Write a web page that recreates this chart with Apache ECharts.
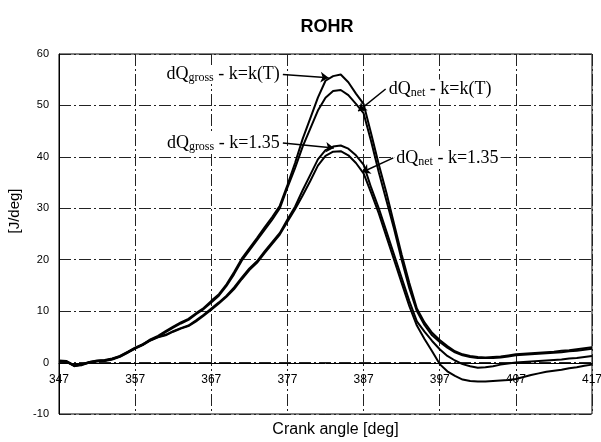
<!DOCTYPE html>
<html>
<head>
<meta charset="utf-8">
<script src="https://cdn.jsdelivr.net/npm/echarts@6/dist/echarts.min.js"></script>
<style>
  html, body { margin: 0; padding: 0; background: #fff; }
  #chart { width: 601px; height: 442px; }
</style>
</head>
<body>
<div id="chart"></div>
<script>
// crank angle, one value per degree
const angles = [
  347, 348, 349, 350, 351, 352, 353, 354, 355, 356, 357, 358, 359, 360,
  361, 362, 363, 364, 365, 366, 367, 368, 369, 370, 371, 372, 373, 374, 375, 376, 377, 378,
  379, 380, 381, 382, 383, 384, 385, 386, 387,
  388, 389, 390, 391, 392, 393, 394,
  395, 396, 397, 398, 399, 400, 401, 402, 403, 404, 405, 406, 407, 408, 409, 410, 411, 412, 413, 414, 415, 416, 417
];

const grossKT = [
  0.3, 0.2, -0.7, -0.4, 0.1, 0.3, 0.4, 0.7, 1.2, 2.0, 2.8, 3.5, 4.5, 5.2,
  6.1, 7.0, 7.8, 8.5, 9.6, 10.6, 12.0, 13.3, 15.2, 17.6, 20.2, 22.2, 24.2, 26.3, 28.3, 30.5, 34.5, 38.8,
  43.5, 47.5, 51.5, 54.8, 55.7, 56.0, 54.5, 52.3, 50.3,
  44.5, 38.5, 33.0, 27.0, 21.0, 15.5, 10.5,
  7.8, 5.8, 4.4, 3.2, 2.2, 1.6, 1.3, 1.1, 1.0, 1.1, 1.2, 1.4, 1.6, 1.7, 1.8, 1.9, 2.0, 2.1, 2.3, 2.4, 2.6, 2.8, 3.0
];

const netKT = [
  0.2, 0.1, -0.6, -0.5, 0.0, 0.2, 0.3, 0.6, 1.1, 1.9, 2.7, 3.4, 4.3, 5.0,
  5.9, 6.8, 7.6, 8.3, 9.4, 10.4, 11.7, 13.0, 14.9, 17.2, 19.8, 21.8, 23.8, 25.8, 27.8, 30.0, 34.0, 37.8,
  42.0, 45.5, 49.0, 51.5, 52.8, 53.0, 52.0, 50.3, 48.5,
  43.0, 37.0, 31.5, 26.0, 20.0, 14.5, 10.0,
  7.3, 5.3, 4.0, 2.9, 2.0, 1.4, 1.1, 0.9, 0.9, 0.9, 1.0, 1.2, 1.4, 1.5, 1.6, 1.7, 1.8, 1.9, 2.0, 2.2, 2.3, 2.5, 2.7
];

const gross135 = [
  0.4, 0.3, -0.5, -0.3, 0.1, 0.4, 0.5, 0.8, 1.3, 2.1, 2.9, 3.6, 4.4, 5.0,
  5.4, 6.1, 6.7, 7.2, 8.2, 9.3, 10.5, 11.7, 13.0, 14.6, 16.5, 18.3, 19.7, 21.6, 23.4, 25.2, 27.8, 30.3,
  33.5, 36.5, 39.5, 41.3, 42.0, 42.2, 41.6, 40.3, 38.5,
  34.0, 30.0, 25.5, 21.0, 16.5, 12.0, 8.0,
  6.0, 4.2, 2.6, 1.3, 0.4, -0.3, -0.7, -1.0, -0.9, -0.7, -0.4, -0.2, 0.0, 0.1, 0.2, 0.3, 0.4, 0.5, 0.6, 0.8, 0.9, 1.1, 1.3
];

const net135 = [
  0.3, 0.2, -0.6, -0.4, 0.0, 0.3, 0.4, 0.7, 1.2, 2.0, 2.8, 3.5, 4.3, 4.9,
  5.3, 6.0, 6.6, 7.1, 8.0, 9.1, 10.3, 11.5, 12.8, 14.3, 16.2, 18.0, 19.4, 21.3, 23.1, 24.9, 27.4, 29.8,
  32.5, 35.3, 38.3, 40.2, 41.0, 41.1, 40.3, 38.8, 36.8,
  33.0, 29.0, 24.5, 20.0, 15.5, 11.0, 7.2,
  4.6, 2.2, -0.3, -1.7, -2.6, -3.3, -3.6, -3.7, -3.7, -3.6, -3.5, -3.4, -3.2, -2.8, -2.4, -2.1, -1.8, -1.6, -1.4, -1.1, -0.9, -0.6, -0.4
];

const xTicks = [347, 357, 367, 377, 387, 397, 407, 417];
const yTicks = [-10, 0, 10, 20, 30, 40, 50, 60];

// label anchor (arrow tail) and arrow head, in chart units
const notes = [
  { sub: "gross", tail: " - k=k(T)", at: [376.4, 56.0], to: [382.4, 55.4], side: "left" },
  { sub: "gross", tail: " - k=1.35", at: [376.4, 42.7], to: [383.1, 41.7], side: "left" },
  { sub: "net", tail: " - k=k(T)", at: [389.9, 53.2], to: [386.3, 48.9], side: "right" },
  { sub: "net", tail: " - k=1.35", at: [390.9, 39.8], to: [386.8, 37.0], side: "right" },
];

const serif = "'Liberation Serif', 'DejaVu Serif', serif";
const sans = "'Liberation Sans', Arial, sans-serif";

const chart = echarts.init(document.getElementById("chart"), null, { renderer: "canvas" });

const lines = [grossKT, netKT, gross135, net135].map((vals, i) => ({
  name: "s" + i,
  type: "line",
  data: angles.map((a, j) => [a, vals[j]]),
  showSymbol: false,
  symbol: "none",
  smooth: false,
  animation: false,
  lineStyle: { color: "#000", width: 2 },
  z: 3,
  markLine: {
    silent: true,
    animation: false,
    symbol: ["none", "arrow"],
    symbolSize: 8,
    label: { show: false },
    lineStyle: { color: "#000", width: 1.5, type: "solid" },
    data: [[{ coord: notes[i].at }, { coord: notes[i].to }]],
  },
  markPoint: {
    silent: true,
    animation: false,
    symbol: "circle",
    symbolSize: 0,
    data: [{ coord: notes[i].at }],
    label: {
      show: true,
      position: notes[i].side,
      distance: 1,
      backgroundColor: "#fff",
      padding: [0, 2, 0, 2],
      formatter: "{a|dQ}{b|" + notes[i].sub + "}{a|" + notes[i].tail + "}",
      rich: {
        a: { fontFamily: serif, fontSize: 18, color: "#000" },
        b: { fontFamily: serif, fontSize: 12, color: "#000", padding: [7, 0, 0, 0] },
      },
    },
  },
}));

chart.setOption({
  animation: false,
  backgroundColor: "#fff",
  title: {
    text: "ROHR",
    left: 322,
    top: 13,
    textAlign: "center",
    textStyle: { fontFamily: sans, fontSize: 18, fontWeight: "bold", color: "#000" },
  },
  grid: {
    left: 59,
    right: 9,
    top: 54,
    bottom: 28,
    containLabel: false,
    outerBoundsMode: "none",
    show: true,
    borderColor: "#000",
    borderWidth: 1,
  },
  xAxis: {
    type: "value",
    min: xTicks[0],
    max: xTicks[xTicks.length - 1],
    interval: 10,
    offset: -51,
    name: "Crank angle [deg]",
    nameLocation: "middle",
    nameGap: 59,
    nameTextStyle: { fontFamily: sans, fontSize: 16, color: "#000", padding: [0, 0, 0, 20] },
    axisLine: { onZero: false, lineStyle: { color: "#000", width: 1 } },
    axisTick: { show: false },
    axisLabel: { fontFamily: sans, fontSize: 12, color: "#000", margin: 11 },
    splitLine: { show: true, lineStyle: { color: "#222", width: 1, type: [12, 3, 2, 3] } },
  },
  yAxis: {
    type: "value",
    min: yTicks[0],
    max: yTicks[yTicks.length - 1],
    interval: 10,
    name: "[J/deg]",
    nameLocation: "middle",
    nameGap: 33,
    nameTextStyle: { fontFamily: sans, fontSize: 15, color: "#000", padding: [0, 0, 0, 46] },
    axisLine: { show: true, lineStyle: { color: "#000", width: 1 } },
    axisTick: { show: false },
    axisLabel: { fontFamily: sans, fontSize: 11, color: "#000", margin: 10 },
    splitLine: { show: true, lineStyle: { color: "#222", width: 1, type: [12, 3, 2, 3] } },
  },
  series: lines,
});
</script>
</body>
</html>
